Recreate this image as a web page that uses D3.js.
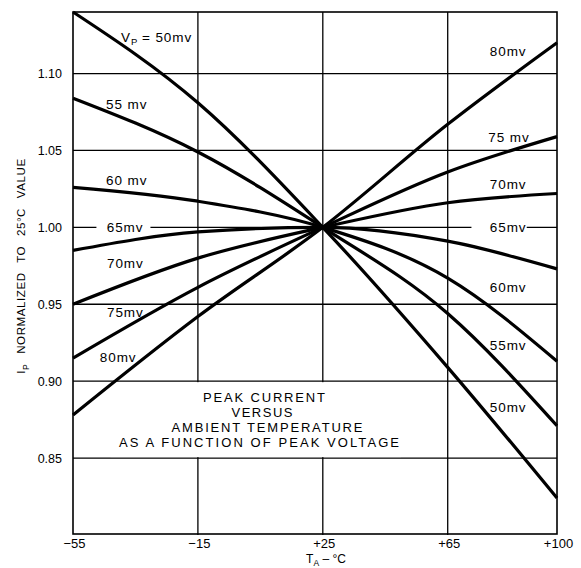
<!DOCTYPE html>
<html><head><meta charset="utf-8">
<script src="https://cdn.jsdelivr.net/npm/d3@7"></script>
<style>
body{margin:0;background:#fff}
text{font-family:"Liberation Sans",Arial,sans-serif;fill:#000}
</style>
</head><body>
<svg id="chart" width="581" height="568"></svg>
<script>
// ---- data ----
const temps = [-55, -15, 25, 65, 100];
const vp50 = [1.140, 1.081, 1.000, 0.909, 0.824];
const vp55 = [1.084, 1.049, 1.000, 0.944, 0.871];
const vp60 = [1.026, 1.017, 1.000, 0.967, 0.913];
const vp65 = [0.985, 0.997, 1.000, 0.991, 0.973];
const vp70 = [0.950, 0.980, 1.000, 1.016, 1.022];
const vp75 = [0.915, 0.961, 1.000, 1.036, 1.059];
const vp80 = [0.878, 0.942, 1.000, 1.067, 1.120];
const seriesNames = ["50mv","55mv","60mv","65mv","70mv","75mv","80mv"];
const seriesValues = [vp50, vp55, vp60, vp65, vp70, vp75, vp80];
const xTicks = [-55, -15, 25, 65, 100];
const xTickLabels = ["\u221255", "\u221215", "+25", "+65", "+100"];
const yTicks = [0.85, 0.90, 0.95, 1.00, 1.05, 1.10];
const yTickLabels = ["0.85", "0.90", "0.95", "1.00", "1.05", "1.10"];
const leftLabelTexts = ["55 mv", "60 mv", "65mv", "70mv", "75mv", "80mv"];
const rightLabelTexts = ["80mv", "75 mv", "70mv", "65mv", "60mv", "55mv", "50mv"];
const titleLines = ["PEAK CURRENT", "VERSUS", "AMBIENT TEMPERATURE", "AS A FUNCTION OF PEAK VOLTAGE"];

// ---- layout ----
const svg = d3.select("#chart");
svg.append("rect").attr("width",581).attr("height",568).attr("fill","#fff");
const x = d3.scaleLinear().domain([-55, 100]).range([73, 557]);
const y = d3.scaleLinear().domain([0.80, 1.14]).range([535, 12]);

// gridlines
const grid = svg.append("g").attr("stroke","#000").attr("stroke-width",1.3);
grid.selectAll(".hg").data(yTicks).join("line")
  .attr("x1", x(-55)).attr("x2", x(100))
  .attr("y1", d => y(d)).attr("y2", d => y(d));
grid.selectAll(".vg").data(xTicks.slice(1, -1)).join("line")
  .attr("x1", d => x(d)).attr("x2", d => x(d))
  .attr("y1", y(1.14)).attr("y2", y(0.80));

// white box behind the title block (gridlines interrupted)
svg.append("rect").attr("x", x(-43)).attr("width", x(50) - x(-43))
  .attr("y", y(0.90) + 1).attr("height", y(0.85) - y(0.90) - 2).attr("fill","#fff");
// gaps on the 1.00 line for the 65mv labels
svg.append("rect").attr("x", x(-47.5)).attr("width", x(-30.2) - x(-47.5))
  .attr("y", y(1.0) - 3).attr("height", 6).attr("fill","#fff");
svg.append("rect").attr("x", x(72.6)).attr("width", x(90.3) - x(72.6))
  .attr("y", y(1.0) - 3).attr("height", 6).attr("fill","#fff");

// frame
svg.append("rect").attr("x", x(-55)).attr("y", y(1.14))
  .attr("width", x(100) - x(-55)).attr("height", y(0.80) - y(1.14) - 1)
  .attr("fill","none").attr("stroke","#000").attr("stroke-width",1.6);

// curves
const line = d3.line().x((d,i) => x(temps[i])).y(d => y(d)).curve(d3.curveMonotoneX);
svg.append("g").selectAll("path").data(seriesValues).join("path")
  .attr("d", d => line(d)).attr("fill","none").attr("stroke","#000")
  .attr("stroke-width",3.2).attr("stroke-linecap","butt").attr("stroke-linejoin","round");

// tick labels
svg.append("g").selectAll("text").data(yTicks).join("text")
  .attr("x", 62).attr("y", d => y(d)).attr("dy","0.36em")
  .attr("text-anchor","end").attr("font-size",12.5)
  .text((d,i) => yTickLabels[i]);
svg.append("g").selectAll("text").data(xTicks).join("text")
  .attr("x", d => x(d) + 1.5).attr("y", 548)
  .attr("text-anchor","middle").attr("font-size",13)
  .text((d,i) => xTickLabels[i]);

// axis titles
const xt = svg.append("text").attr("x", 326).attr("y", 563)
  .attr("text-anchor","middle").attr("font-size",12);
xt.append("tspan").text("T");
xt.append("tspan").attr("font-size",8.5).attr("dy",3).text("A");
xt.append("tspan").attr("dy",-3).text(" \u2013 \u00B0C");

const yt = svg.append("text").attr("transform","translate(25,266) rotate(-90)")
  .attr("text-anchor","middle").attr("font-size",11.5)
  .attr("letter-spacing",0.6).attr("word-spacing",6);
yt.append("tspan").text("I");
yt.append("tspan").attr("font-size",8.5).attr("dy",3.5).text("P");
yt.append("tspan").attr("dy",-3.5).text(" NORMALIZED TO 25\u00B0C VALUE");

// curve labels (anchor points in data space)
const leftAnchors = [[-44.4,1.0769],[-44.4,1.0274],[-44.2,0.9967],[-44.1,0.9739],[-44.1,0.9414],[-46.4,0.9127]];
const rightAnchors = [[78.5,1.1114],[78.0,1.0554],[78.5,1.0248],[78.5,0.9971],[78.5,0.9577],[78.5,0.9205],[78.5,0.8801]];
const lab = svg.append("g").attr("font-size",13.5).attr("letter-spacing",0.9);
lab.selectAll(".l").data(leftLabelTexts).join("text")
  .attr("x",(d,i)=>x(leftAnchors[i][0])).attr("y",(d,i)=>y(leftAnchors[i][1])).text(d=>d);
lab.selectAll(".r").data(rightLabelTexts).join("text")
  .attr("x",(d,i)=>x(rightAnchors[i][0])).attr("y",(d,i)=>y(rightAnchors[i][1])).text(d=>d);
const vpl = lab.append("text").attr("x", x(-39.6)).attr("y", y(1.1205));
vpl.append("tspan").text("V");
vpl.append("tspan").attr("font-size",9.5).attr("dy",3.5).attr("letter-spacing",0).text("P");
vpl.append("tspan").attr("dy",-3.5).text(" = " + seriesNames[0]);

// title block
const tLens = [122, 61, 191, 280];
const tCx = [264, 262, 267, 259];
const tBase = [402, 417, 432, 447];
svg.append("g").selectAll("text").data(titleLines).join("text")
  .attr("x",(d,i)=>tCx[i]).attr("y",(d,i)=>tBase[i])
  .attr("text-anchor","middle").attr("font-size",13)
  .attr("textLength",(d,i)=>tLens[i]).attr("lengthAdjust","spacing")
  .text(d=>d);
</script>
</body></html>
